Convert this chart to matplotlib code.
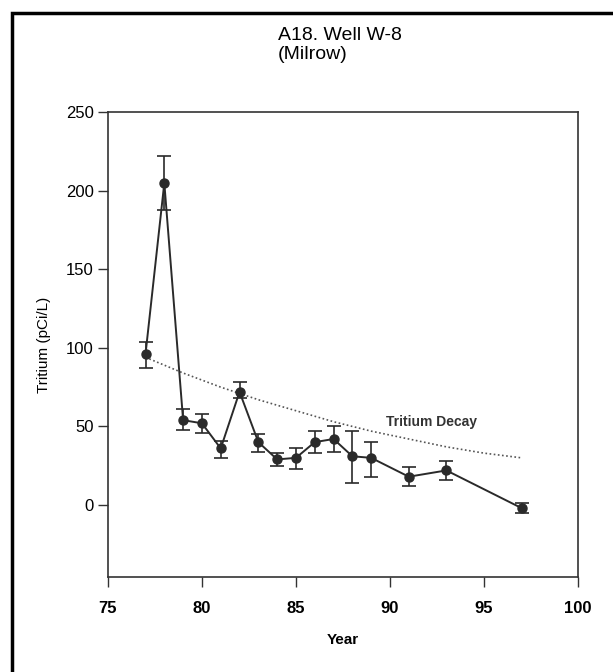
import numpy as np
import matplotlib.pyplot as plt
from matplotlib.patches import Rectangle

plt.rcParams['font.family'] = ['Liberation Sans', 'DejaVu Sans']

# measured tritium, well W-8
years = [77, 78, 79, 80, 81, 82, 83, 84, 85, 86, 87, 88, 89, 91, 93, 97]
tritium = [96, 205, 54, 52, 36, 72, 40, 29, 30, 40, 42, 31, 30, 18, 22, -2]
err_hi = [104, 222, 61, 58, 41, 78, 45, 33, 36, 47, 50, 47, 40, 24, 28, 1]
err_lo = [87, 188, 48, 46, 30, 68, 34, 25, 23, 33, 34, 14, 18, 12, 16, -5]

# decay reference curve
decay_years = [77, 79, 81, 83, 85, 87, 89, 91, 93, 95, 97]
decay_vals = [94, 84, 75, 67, 60, 53, 47, 42, 37, 33, 30]

xticks = [75, 80, 85, 90, 95, 100]
yticks = [0, 50, 100, 150, 200, 250]

fig = plt.figure(figsize=(6.13, 6.72), dpi=100)
ax = fig.add_axes([0.176, 0.141, 0.767, 0.692])

yerr = [np.array(tritium) - np.array(err_lo), np.array(err_hi) - np.array(tritium)]
ax.errorbar(years, tritium, yerr=yerr, color='#2a2a2a', lw=1.4, marker='o', ms=6.5,
            capsize=5, elinewidth=1.2, capthick=1.2)
ax.plot(decay_years, decay_vals, ls=(0, (1, 1.5)), color='#555555', lw=1.2)
ax.text(89.8, 53, 'Tritium Decay', fontsize=10, fontweight='bold', va='center', color='#333333')

ax.set_xlim(75, 100)
ax.set_ylim(-46, 250)
ax.set_xticks(xticks)
ax.set_yticks(yticks)
ax.tick_params(direction='out', length=7, width=1, colors='#333333', labelcolor='black')
for lbl in ax.get_xticklabels():
    lbl.set_fontsize(12)
    lbl.set_fontweight('bold')
for lbl in ax.get_yticklabels():
    lbl.set_fontsize(12)
ax.tick_params(axis='x', pad=10)
ax.tick_params(axis='y', pad=3)
for s in ax.spines.values():
    s.set_color('#333333')
    s.set_linewidth(1.2)

ax.set_ylabel('Tritium (pCi/L)', fontsize=11, labelpad=11)
ax.set_xlabel('Year', fontsize=11, fontweight='bold', labelpad=12)

fig.text(278 / 613, 1 - 27 / 672, 'A18. Well W-8\n(Milrow)', fontsize=14, va='top', ha='left',
         linespacing=1.15)

# frame around the figure
fig.patches.append(Rectangle((12 / 613, -0.1), 1.2, 1 - 13 / 672 + 0.1, transform=fig.transFigure,
                             fill=False, edgecolor='black', lw=2.5))

fig.savefig('out.png', dpi=100)
